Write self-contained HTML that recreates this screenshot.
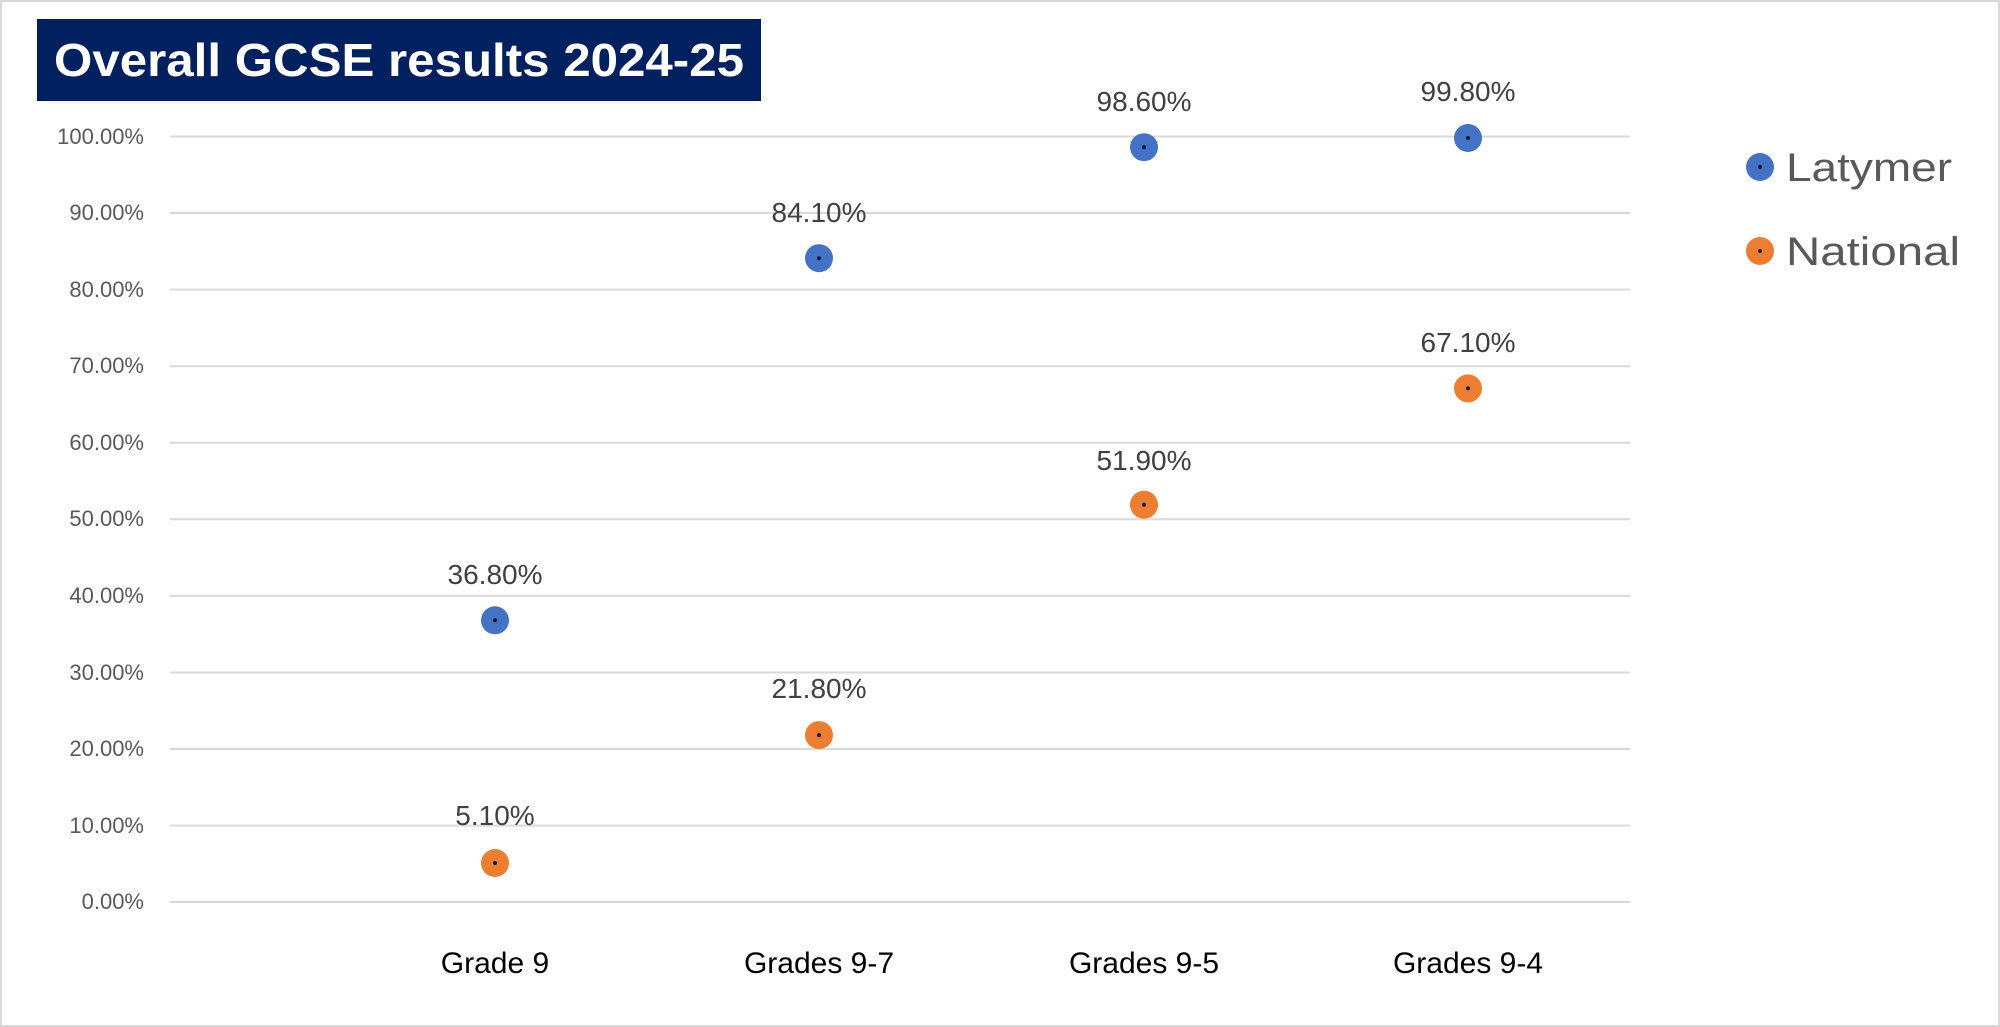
<!DOCTYPE html>
<html><head><meta charset="utf-8"><style>
html,body{margin:0;padding:0;background:#fff;}
svg{display:block;font-family:"Liberation Sans",sans-serif;}
</style></head><body>
<svg width="2000" height="1027" viewBox="0 0 2000 1027" xmlns="http://www.w3.org/2000/svg">
<rect x="1" y="1" width="1998" height="1025" fill="#fff" stroke="#d9d9d9" stroke-width="2"/>
<rect x="37" y="19" width="724" height="82" fill="#002060"/>
<text x="399" y="76" fill="#fff" font-size="46" font-weight="bold" text-anchor="middle" textLength="690" lengthAdjust="spacingAndGlyphs">Overall GCSE results 2024-25</text>
<g stroke="#d9d9d9" stroke-width="2">
<line x1="170" x2="1630" y1="136.5" y2="136.5"/>
<line x1="170" x2="1630" y1="213" y2="213"/>
<line x1="170" x2="1630" y1="289.6" y2="289.6"/>
<line x1="170" x2="1630" y1="366.2" y2="366.2"/>
<line x1="170" x2="1630" y1="442.8" y2="442.8"/>
<line x1="170" x2="1630" y1="519.3" y2="519.3"/>
<line x1="170" x2="1630" y1="595.9" y2="595.9"/>
<line x1="170" x2="1630" y1="672.5" y2="672.5"/>
<line x1="170" x2="1630" y1="749" y2="749"/>
<line x1="170" x2="1630" y1="825.6" y2="825.6"/>
<line x1="170" x2="1630" y1="902" y2="902"/>
</g>
<g fill="#595959" font-size="22" text-anchor="end">
<text x="144" y="144">100.00%</text>
<text x="144" y="220">90.00%</text>
<text x="144" y="297">80.00%</text>
<text x="144" y="373">70.00%</text>
<text x="144" y="450">60.00%</text>
<text x="144" y="526">50.00%</text>
<text x="144" y="603">40.00%</text>
<text x="144" y="680">30.00%</text>
<text x="144" y="756">20.00%</text>
<text x="144" y="833">10.00%</text>
<text x="144" y="909">0.00%</text>
</g>
<g fill="#000" font-size="30" text-anchor="middle">
<text x="495" y="973">Grade 9</text>
<text x="819" y="973">Grades 9-7</text>
<text x="1144" y="973">Grades 9-5</text>
<text x="1468" y="973">Grades 9-4</text>
</g>
<g fill="#404040" font-size="28" text-anchor="middle">
<text x="495" y="584">36.80%</text>
<text x="819" y="222">84.10%</text>
<text x="1144" y="111">98.60%</text>
<text x="1468" y="101">99.80%</text>
<text x="495" y="825">5.10%</text>
<text x="819" y="698">21.80%</text>
<text x="1144" y="470">51.90%</text>
<text x="1468" y="352">67.10%</text>
</g>
<g fill="#4472C4">
<circle cx="495" cy="620.3" r="14"/>
<circle cx="819" cy="258.2" r="14"/>
<circle cx="1144" cy="147.2" r="14"/>
<circle cx="1468" cy="138" r="14"/>
<circle cx="1760" cy="167" r="14"/>
</g>
<g fill="#ED7D31">
<circle cx="495" cy="863" r="14"/>
<circle cx="819" cy="735.1" r="14"/>
<circle cx="1144" cy="504.7" r="14"/>
<circle cx="1468" cy="388.4" r="14"/>
<circle cx="1760" cy="251" r="14"/>
</g>
<g fill="#0b1a3d">
<circle cx="495" cy="620.3" r="2"/><circle cx="819" cy="258.2" r="2"/><circle cx="1144" cy="147.2" r="2"/><circle cx="1468" cy="138" r="2"/><circle cx="1760" cy="167" r="2"/>
<circle cx="495" cy="863" r="2"/><circle cx="819" cy="735.1" r="2"/><circle cx="1144" cy="504.7" r="2"/><circle cx="1468" cy="388.4" r="2"/><circle cx="1760" cy="251" r="2"/>
</g>
<g fill="#595959" font-size="40">
<text x="1786" y="181" textLength="166" lengthAdjust="spacingAndGlyphs">Latymer</text>
<text x="1786" y="265" textLength="174" lengthAdjust="spacingAndGlyphs">National</text>
</g>
</svg>
</body></html>
